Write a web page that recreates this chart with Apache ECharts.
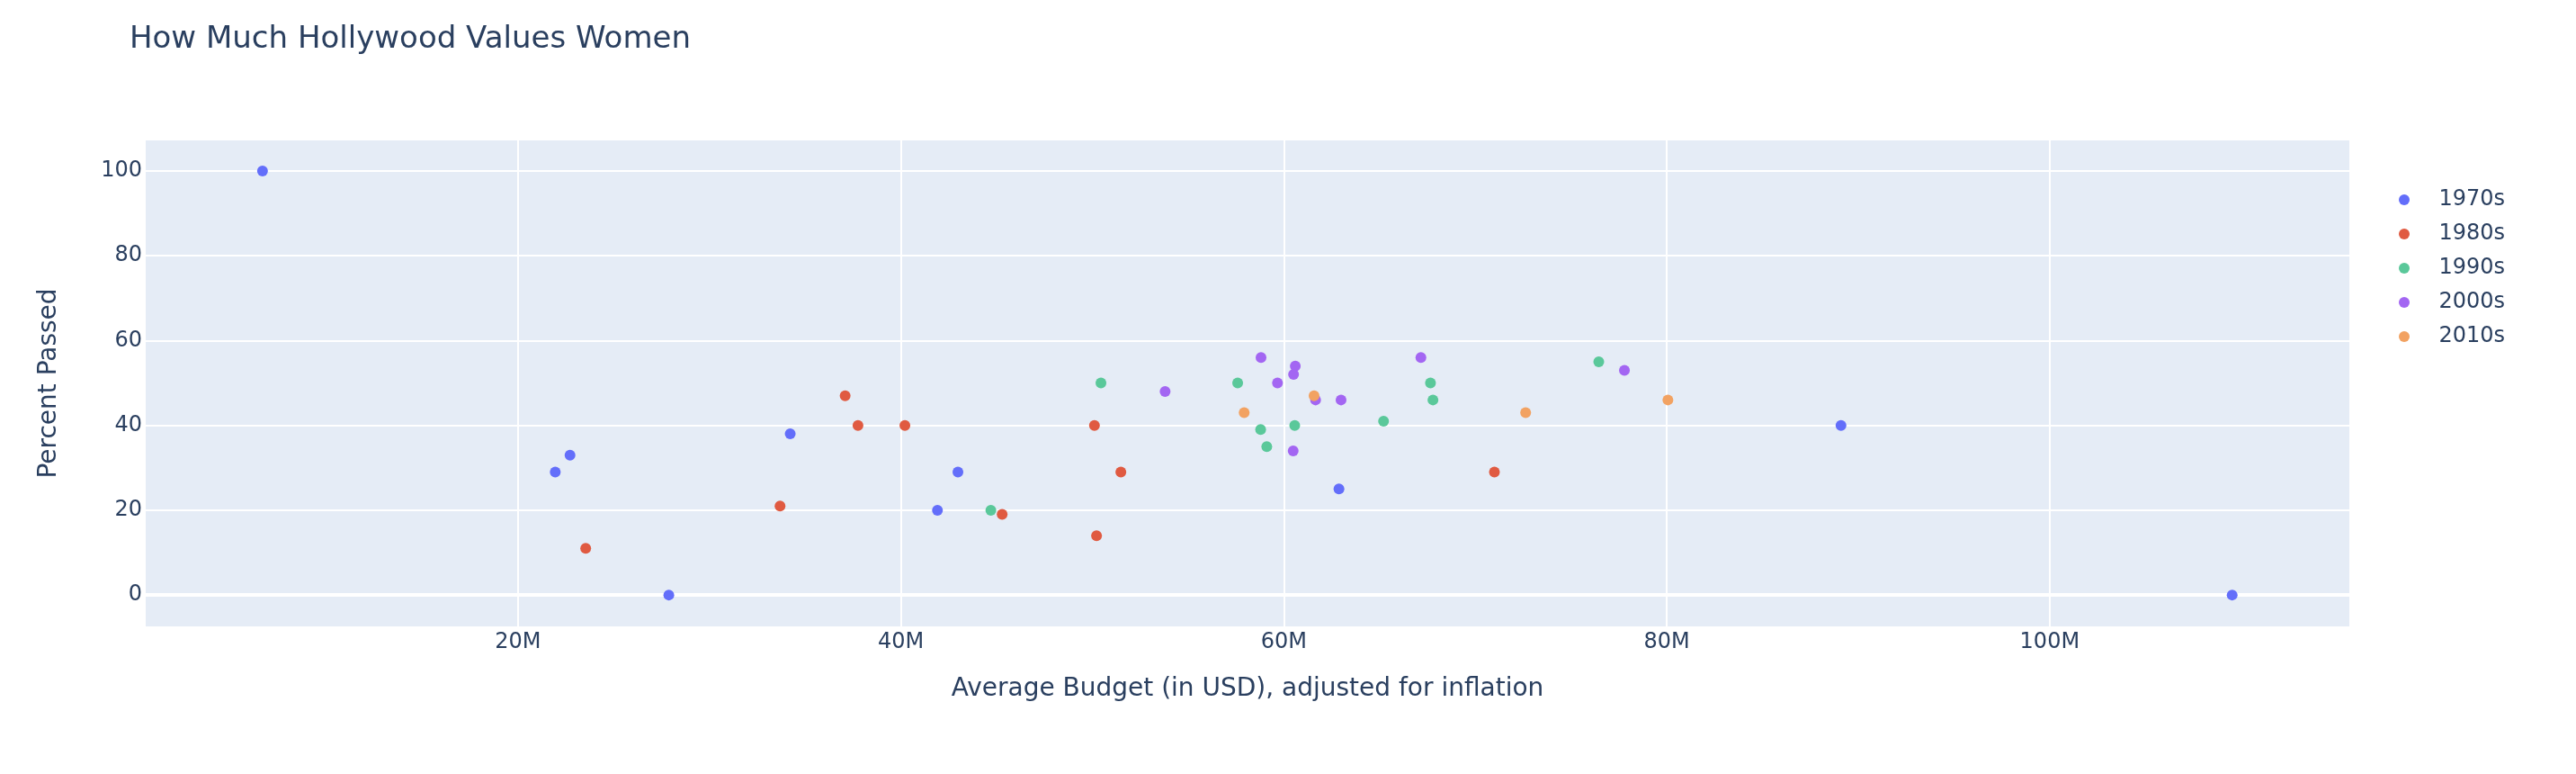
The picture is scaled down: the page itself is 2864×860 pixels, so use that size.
<!DOCTYPE html>
<html>
<head>
<meta charset="utf-8">
<script src="https://cdn.jsdelivr.net/npm/echarts@6/dist/echarts.min.js"></script>
<style>
html,body{margin:0;padding:0;background:#fff;}
#chart{width:2864px;height:860px;}
</style>
</head>
<body>
<div id="chart"></div>
<script>
// Decade categories (legend order)
const decades = ['1970s', '1980s', '1990s', '2000s', '2010s'];
const colors = ['#636efa', '#E05A41', '#5AC89A', '#A366F2', '#F2A262'];

// Average budget (USD, inflation adjusted) and percent passed, per decade
const budget1970s = [6.66e6, 21.95e6, 22.72e6, 27.88e6, 34.22e6, 41.91e6, 42.98e6, 62.88e6, 89.1e6, 109.53e6];
const passed1970s = [100, 29, 33, 0, 38, 20, 29, 25, 40, 0];

const budget1980s = [23.54e6, 33.69e6, 37.09e6, 37.76e6, 40.21e6, 45.29e6, 50.11e6, 50.22e6, 51.49e6, 71.0e6];
const passed1980s = [11, 21, 47, 40, 40, 19, 40, 14, 29, 29];

const budget1990s = [44.70e6, 50.45e6, 57.59e6, 58.79e6, 59.11e6, 60.57e6, 65.21e6, 67.66e6, 67.79e6, 76.45e6];
const passed1990s = [20, 50, 50, 39, 35, 40, 41, 50, 46, 55];

const budget2000s = [53.80e6, 58.81e6, 59.67e6, 60.51e6, 60.60e6, 60.49e6, 61.66e6, 62.99e6, 67.16e6, 77.79e6];
const passed2000s = [48, 56, 50, 52, 54, 34, 46, 46, 56, 53];

const budget2010s = [57.93e6, 61.58e6, 72.63e6, 80.06e6];
const passed2010s = [43, 47, 43, 46];

// Tick values
const xTicks = [20e6, 40e6, 60e6, 80e6, 100e6];
const yTicks = [0, 20, 40, 60, 80, 100];
const yZero = [0];

const budgets = [budget1970s, budget1980s, budget1990s, budget2000s, budget2010s];
const passed = [passed1970s, passed1980s, passed1990s, passed2000s, passed2010s];

const FONT = '"DejaVu Sans", Verdana, Arial, sans-serif';
const TXT = '#2a3f5f';
const Y_MIN = -7.4, Y_MAX = 107.2;

const series = decades.map((name, i) => ({
  name: name,
  type: 'scatter',
  symbol: 'circle',
  symbolSize: 12,
  yAxisIndex: 0,
  itemStyle: { color: colors[i], opacity: 1 },
  data: budgets[i].map((b, j) => [b, passed[i][j]]),
  z: 3
}));

const chart = echarts.init(document.getElementById('chart'), null, { renderer: 'canvas' });
chart.setOption({
  animation: false,
  backgroundColor: '#ffffff',
  textStyle: { fontFamily: FONT },
  title: {
    text: 'How Much Hollywood Values Women',
    left: 144,
    top: 27,
    padding: 0,
    textStyle: { fontFamily: FONT, fontSize: 34, fontWeight: 'normal', color: TXT, lineHeight: 34 }
  },
  legend: {
    data: decades,
    orient: 'vertical',
    left: 2667,
    top: 210,
    padding: 0,
    itemWidth: 67,
    itemHeight: 12,
    itemGap: 14,
    icon: 'circle',
    textStyle: { fontFamily: FONT, fontSize: 24, color: TXT, lineHeight: 24 }
  },
  grid: {
    left: 162,
    right: 252,
    top: 156,
    bottom: 164,
    show: true,
    backgroundColor: '#E5ECF6',
    borderWidth: 0,
    containLabel: false
  },
  xAxis: {
    type: 'value',
    min: 0.56e6,
    max: 115.65e6,
    name: 'Average Budget (in USD), adjusted for inflation',
    nameLocation: 'middle',
    nameGap: 56,
    nameTextStyle: { fontFamily: FONT, fontSize: 28, color: TXT, lineHeight: 28 },
    axisLine: { show: false, onZero: false },
    axisTick: { show: false, customValues: xTicks },
    axisLabel: {
      customValues: xTicks,
      margin: 6,
      fontFamily: FONT, fontSize: 24, color: TXT, lineHeight: 24,
      formatter: v => (v / 1e6) + 'M'
    },
    splitLine: { show: true, lineStyle: { color: '#ffffff', width: 2 } }
  },
  yAxis: [{
    type: 'value',
    min: Y_MIN,
    max: Y_MAX,
    name: 'Percent Passed',
    nameLocation: 'middle',
    nameGap: 93,
    nameTextStyle: { fontFamily: FONT, fontSize: 28, color: TXT, lineHeight: 28 },
    axisLine: { show: false },
    axisTick: { show: false, customValues: yTicks },
    axisLabel: {
      customValues: yTicks,
      margin: 4,
      fontFamily: FONT, fontSize: 24, color: TXT, lineHeight: 24
    },
    splitLine: { show: true, lineStyle: { color: '#ffffff', width: 2 } }
  }, {
    // zero line overlay (same scale as the main y axis)
    type: 'value',
    position: 'left',
    min: Y_MIN,
    max: Y_MAX,
    axisLine: { show: false },
    axisTick: { show: false, customValues: yZero },
    axisLabel: { show: false, customValues: yZero },
    splitLine: { show: true, lineStyle: { color: '#ffffff', width: 4 } }
  }],
  series: series
});
</script>
</body>
</html>
